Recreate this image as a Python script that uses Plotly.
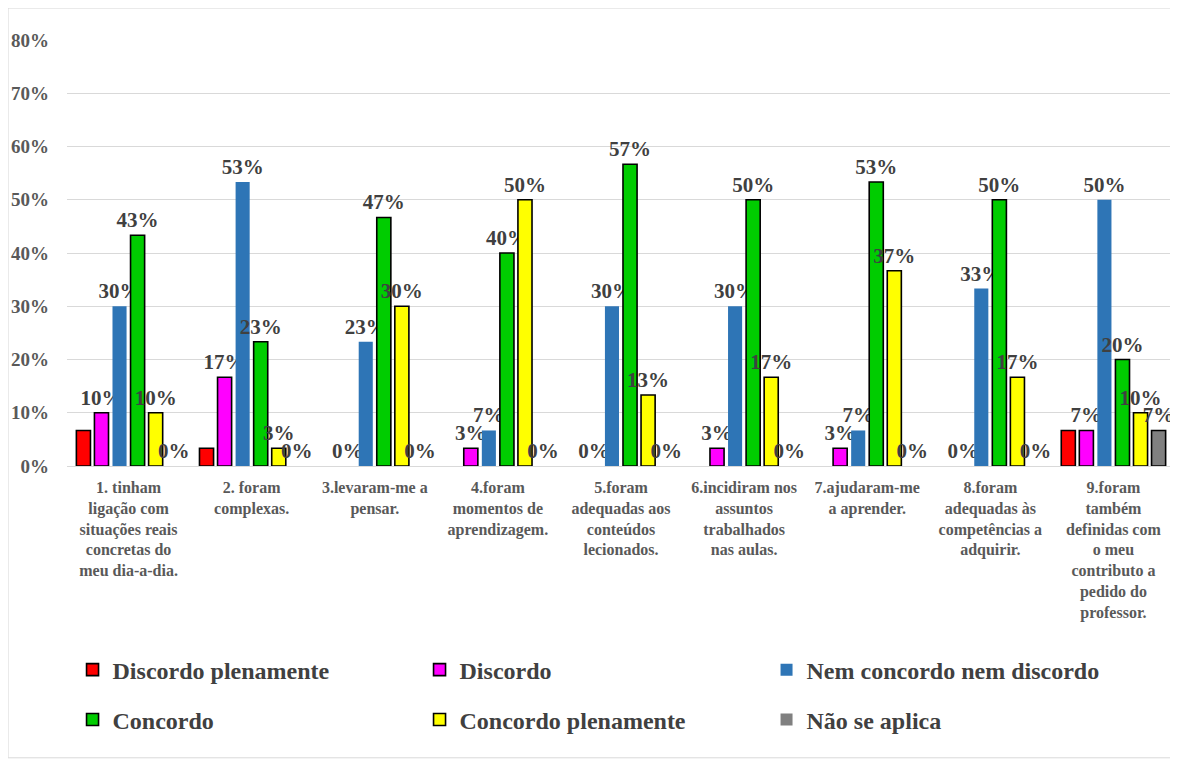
import plotly.graph_objects as go

categories = [
    "1. tinham<br>ligação com<br>situações reais<br>concretas do<br>meu dia-a-dia.",
    "2. foram<br>complexas.",
    "3.levaram-me a<br>pensar.",
    "4.foram<br>momentos de<br>aprendizagem.",
    "5.foram<br>adequadas aos<br>conteúdos<br>lecionados.",
    "6.incidiram nos<br>assuntos<br>trabalhados<br>nas aulas.",
    "7.ajudaram-me<br>a aprender.",
    "8.foram<br>adequadas às<br>competências a<br>adquirir.",
    "9.foram<br>também<br>definidas com<br>o meu<br>contributo a<br>pedido do<br>professor.",
]

discordo_plenamente = [0.0667, 0.0333, 0.0, 0.0, 0.0, 0.0, 0.0, 0.0, 0.0667]
discordo = [0.10, 0.1667, 0.0, 0.0333, 0.0, 0.0333, 0.0333, 0.0, 0.0667]
nem_nem = [0.30, 0.5333, 0.2333, 0.0667, 0.30, 0.30, 0.0667, 0.3333, 0.50]
concordo = [0.4333, 0.2333, 0.4667, 0.40, 0.5667, 0.50, 0.5333, 0.50, 0.20]
concordo_plenamente = [0.10, 0.0333, 0.30, 0.50, 0.1333, 0.1667, 0.3667, 0.1667, 0.10]
nao_se_aplica = [0.0, 0.0, 0.0, 0.0, 0.0, 0.0, 0.0, 0.0, 0.0667]

series = [
    ("Discordo plenamente", discordo_plenamente, "#FF0000", True, False, "legend"),
    ("Discordo", discordo, "#FF00FF", True, True, "legend"),
    ("Nem concordo nem discordo", nem_nem, "#2E75B6", False, True, "legend"),
    ("Concordo", concordo, "#00CC00", True, True, "legend2"),
    ("Concordo plenamente", concordo_plenamente, "#FFFF00", True, True, "legend2"),
    ("Não se aplica", nao_se_aplica, "#808080", True, True, "legend2"),
]

SERIF = "Liberation Serif"
fig = go.Figure()
for name, vals, color, outline, show_text, leg in series:
    widths = [(1.6 if (outline and v > 0) else 0) for v in vals]
    fig.add_trace(go.Bar(
        name=name,
        x=categories,
        y=vals,
        marker=dict(color=color, line=dict(color="#000000", width=widths)),
        texttemplate="%{y:.0%}" if show_text else None,
        textposition="outside" if show_text else "none",
        textfont=dict(family=SERIF, size=21, color="#404040", weight="bold"),
        constraintext="none",
        cliponaxis=False,
        legend=leg,
    ))

legend_common = dict(
    orientation="h",
    xanchor="left",
    yanchor="middle",
    entrywidth=302,
    font=dict(family=SERIF, size=24, color="#404040", weight="bold"),
    bgcolor="rgba(0,0,0,0)",
)

fig.update_layout(
    width=1178,
    height=761,
    paper_bgcolor="white",
    plot_bgcolor="white",
    margin=dict(l=59, r=11, t=32, b=303, autoexpand=False),
    barmode="group",
    bargap=0.12,
    bargroupgap=0.22,
    showlegend=True,
    legend=dict(x=0.005, y=-0.479, **legend_common),
    legend2=dict(x=0.005, y=-0.596, **legend_common),
    yaxis=dict(
        range=[0, 0.8],
        dtick=0.1,
        tickformat=".0%",
        automargin=False,
        showgrid=True,
        gridcolor="#D9D9D9",
        gridwidth=1,
        zeroline=True,
        zerolinecolor="#D9D9D9",
        zerolinewidth=1,
        showline=False,
        ticks="",
        ticklabelstandoff=17,
        tickfont=dict(family=SERIF, size=19, color="#595959", weight="bold"),
    ),
    xaxis=dict(
        automargin=False,
        showline=False,
        ticks="",
        tickangle=0,
        ticklabelstandoff=10,
        tickfont=dict(family=SERIF, size=16, color="#595959", weight="bold"),
    ),
    shapes=[dict(
        type="rect", xref="paper", yref="paper",
        x0=-0.0532, x1=1.0018, y0=-0.685, y1=1.075,
        line=dict(color="#D9D9D9", width=1),
        fillcolor="rgba(0,0,0,0)",
        layer="below",
    )],
)

fig.write_html("out.html")
